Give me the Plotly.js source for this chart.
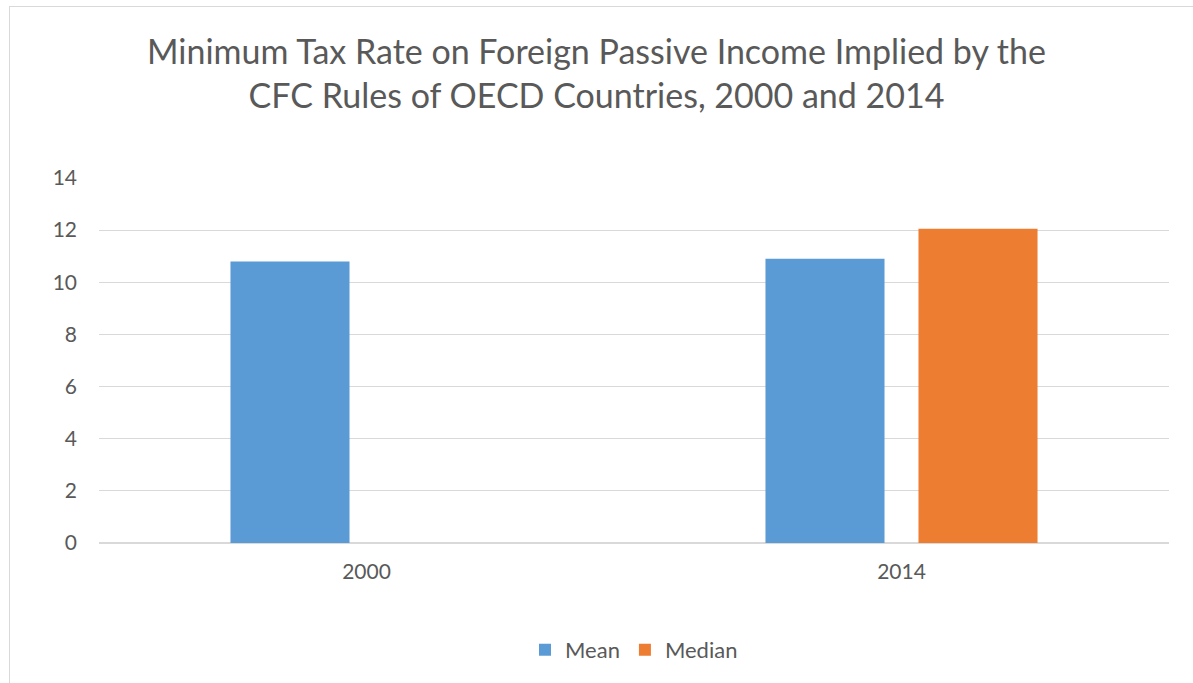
<!DOCTYPE html>
<html><head><meta charset="utf-8">
<script src="https://cdn.plot.ly/plotly-3.0.1.min.js"></script>
<style>
html,body{margin:0;padding:0;background:#fff;}
#frame{position:absolute;left:9px;top:6px;width:1200px;height:700px;border:1px solid #d9d9d9;box-sizing:border-box;}
#chart{position:absolute;left:0;top:0;width:1193px;height:683px;}
</style>
</head><body>
<div id="frame"></div>
<div id="chart"></div>
<script>
const categories = ["2000", "2014"];
const meanValues = [10.8, 10.9];
const medianValues = [0, 12.05];
const yTicks = [0, 2, 4, 6, 8, 10, 12, 14];

const font = "Lato, 'Open Sans', sans-serif";
const data = [
  {type: 'bar', name: 'Mean', x: categories, y: meanValues, marker: {color: '#5B9BD5', line: {width: 0}}, hoverinfo: 'y'},
  {type: 'bar', name: 'Median', x: categories, y: medianValues, marker: {color: '#ED7D31', line: {width: 0}}, hoverinfo: 'y'}
];
const layout = {
  width: 1193, height: 683,
  paper_bgcolor: 'rgba(0,0,0,0)', plot_bgcolor: 'rgba(0,0,0,0)',
  margin: {l: 99, r: 24, t: 178, b: 140},
  font: {family: font, color: '#595959'},
  title: {text: 'Minimum Tax Rate on Foreign Passive Income Implied by the<br>CFC Rules of OECD Countries, 2000 and 2014',
          font: {size: 34, color: '#595959', family: font}, x: 0.5, xanchor: 'center', xref: 'container', y: 0.907, yanchor: 'middle'},
  barmode: 'group', bargap: 0.428, bargroupgap: 0.222,
  xaxis: {type: 'category', tickfont: {size: 21, color: '#595959'}, showgrid: false, showline: false, ticks: '', ticklabelstandoff: 14, zeroline: false},
  yaxis: {range: [0, 14], tickvals: yTicks, tickfont: {size: 21, color: '#595959'}, showgrid: true, gridcolor: '#d9d9d9', gridwidth: 1,
          zeroline: true, zerolinecolor: '#d9d9d9', zerolinewidth: 2, showline: false, ticks: '', ticklabelstandoff: 21, fixedrange: true},
  showlegend: true,
  legend: {orientation: 'h', x: 0.5, xanchor: 'center', y: -0.293, yanchor: 'middle', font: {size: 22, color: '#595959'}, traceorder: 'normal', itemwidth: 30}
};
Plotly.newPlot('chart', data, layout, {displayModeBar: false, staticPlot: true});
</script>
</body></html>
